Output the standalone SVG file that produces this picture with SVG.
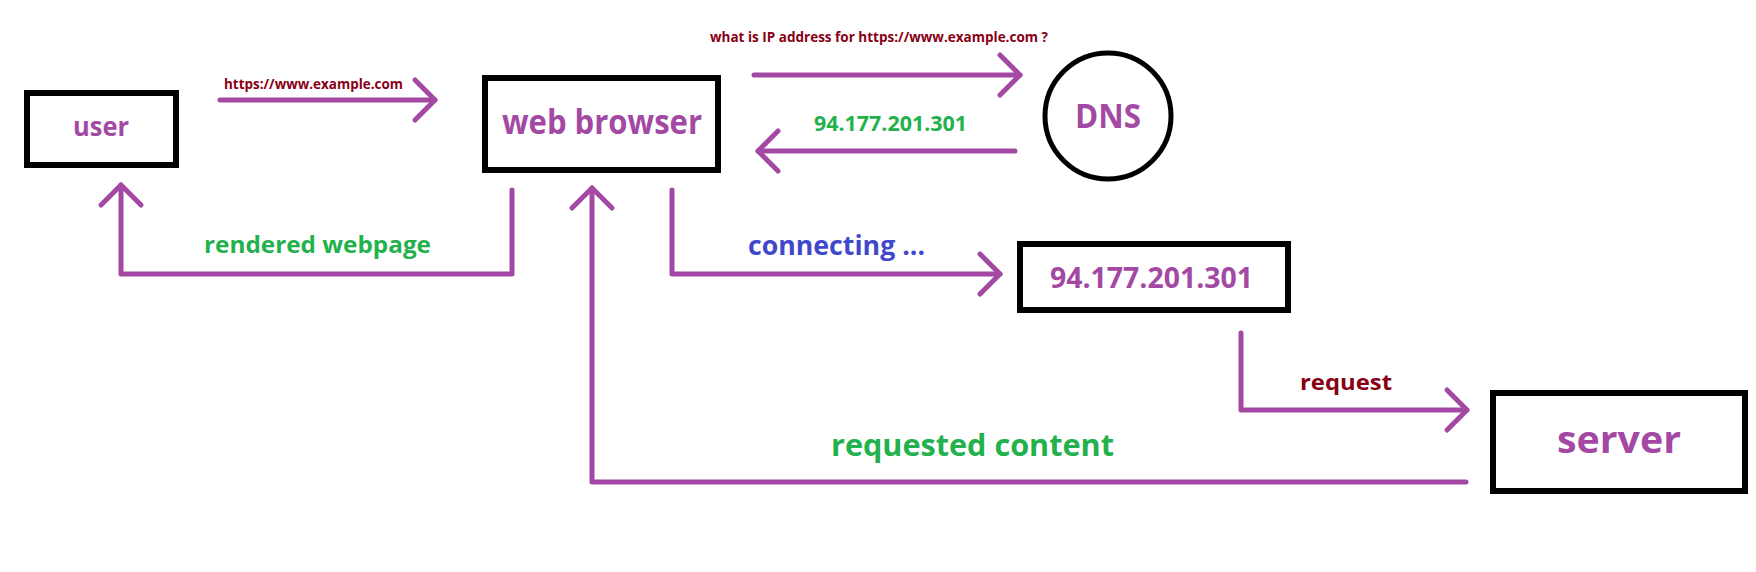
<svg xmlns="http://www.w3.org/2000/svg" width="1756" height="572" viewBox="0 0 1756 572">
<style>
.box{fill:#fff;stroke:#000;stroke-width:6}
.con{fill:none;stroke:#a349a4;stroke-width:5;stroke-linecap:round;stroke-linejoin:round}
text{font-family:"Open Sans","Liberation Sans",sans-serif;font-weight:bold}
.node{fill:#a349a4}
.green{fill:#22b14c}
.red{fill:#880015}
.blue{fill:#3f48cc}
</style>
<defs>
<marker id="arr" markerUnits="userSpaceOnUse" markerWidth="40" markerHeight="50" viewBox="-30 -25 40 50" refX="0" refY="0" orient="auto" overflow="visible">
<path d="M-20 -20 L0 0 L-20 20" fill="none" stroke="#a349a4" stroke-width="5" stroke-linecap="round" stroke-linejoin="round"/>
</marker>
</defs>
<rect width="1756" height="572" fill="#fff"/>
<g id="connectors">
<path class="con" d="M220 100 H435" marker-end="url(#arr)"/>
<path class="con" d="M754 75 H1020" marker-end="url(#arr)"/>
<path class="con" d="M1015 151 H758" marker-end="url(#arr)"/>
<path class="con" d="M512 190 V274 H121 V185" marker-end="url(#arr)"/>
<path class="con" d="M672 190 V274 H1000" marker-end="url(#arr)"/>
<path class="con" d="M1241 333 V410 H1467" marker-end="url(#arr)"/>
<path class="con" d="M1466 482 H592 V188" marker-end="url(#arr)"/>
<text class="red" x="224" y="89" font-size="15" textLength="179" lengthAdjust="spacingAndGlyphs">https://www.example.com</text>
<text class="red" x="710" y="42" font-size="15" textLength="338" lengthAdjust="spacingAndGlyphs">what is IP address for https://www.example.com ?</text>
<text class="green" x="814" y="131" font-size="21" textLength="153" lengthAdjust="spacingAndGlyphs">94.177.201.301</text>
<text class="green" x="204" y="253" font-size="24" textLength="227" lengthAdjust="spacingAndGlyphs">rendered webpage</text>
<text class="blue" x="748" y="255" font-size="26" textLength="177" lengthAdjust="spacingAndGlyphs">connecting ...</text>
<text class="red" x="1300" y="390" font-size="21" textLength="92" lengthAdjust="spacingAndGlyphs">request</text>
<text class="green" x="831" y="456" font-size="30" textLength="283" lengthAdjust="spacingAndGlyphs">requested content</text>
</g>
<g id="user">
<rect class="box" x="27" y="93" width="149" height="72"/>
<text class="node" x="73" y="136" font-size="26" textLength="56" lengthAdjust="spacingAndGlyphs">user</text>
</g>
<g id="web-browser">
<rect class="box" x="485" y="78" width="233" height="92"/>
<text class="node" x="502" y="134" font-size="34" textLength="200" lengthAdjust="spacingAndGlyphs">web browser</text>
</g>
<g id="dns">
<circle cx="1108" cy="116" r="63" fill="#fff" stroke="#000" stroke-width="5"/>
<text class="node" x="1075" y="128" font-size="34" textLength="66" lengthAdjust="spacingAndGlyphs">DNS</text>
</g>
<g id="ip">
<rect class="box" x="1020" y="244" width="268" height="66"/>
<text class="node" x="1050" y="288" font-size="28" textLength="203" lengthAdjust="spacingAndGlyphs">94.177.201.301</text>
</g>
<g id="server">
<rect class="box" x="1493" y="393" width="252" height="98"/>
<text class="node" x="1557" y="453" font-size="38" textLength="124" lengthAdjust="spacingAndGlyphs">server</text>
</g>
</svg>
